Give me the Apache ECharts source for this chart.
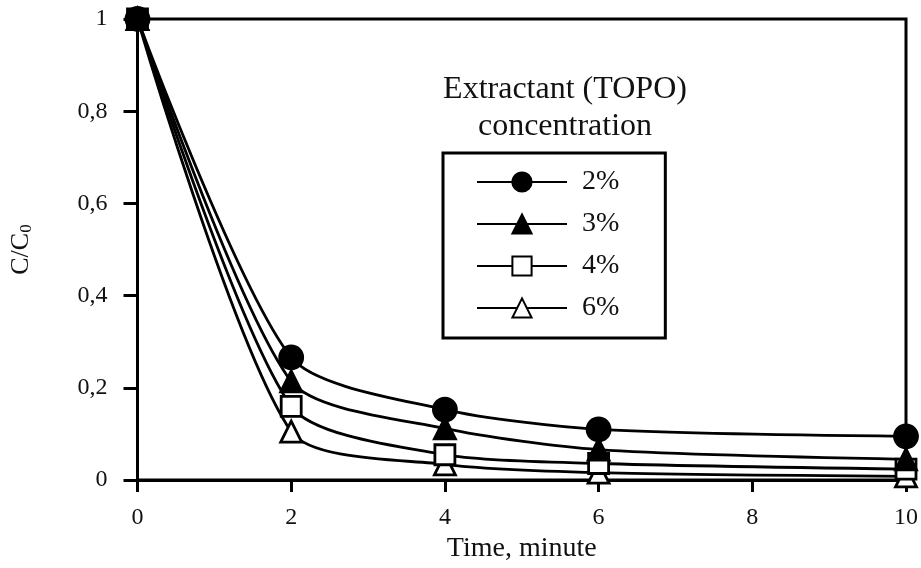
<!DOCTYPE html>
<html>
<head>
<meta charset="utf-8">
<script src="https://cdn.jsdelivr.net/npm/echarts@6/dist/echarts.min.js"></script>
<style>
  html, body { margin: 0; padding: 0; background: #fff; }
  #chart { width: 921px; height: 568px; }
</style>
</head>
<body>
<div id="chart"></div>
<script>
// time in minutes
const times = [0, 2, 4, 6, 10];
// C/C0 for each TOPO concentration
const c2 = [1, 0.266, 0.153, 0.110, 0.095];
const c3 = [1, 0.214, 0.112, 0.066, 0.045];
const c4 = [1, 0.160, 0.055, 0.036, 0.024];
const c6 = [1, 0.105, 0.034, 0.016, 0.008];
const labels = ['2%', '3%', '4%', '6%'];

const font = 'Liberation Serif';
const pairs = arr => times.map((t, i) => [t, arr[i]]);

function mkSeries(name, data, symbol, filled, size) {
  return {
    name: name,
    type: 'line',
    data: pairs(data),
    smooth: 0.25,
    symbol: symbol,
    symbolSize: size,
    lineStyle: { color: '#000', width: 2.8 },
    itemStyle: { color: filled ? '#000' : '#fff', borderColor: '#000', borderWidth: 2.8 },
    emphasis: { disabled: true }
  };
}

const chart = echarts.init(document.getElementById('chart'));
chart.setOption({
  animation: false,
  textStyle: { fontFamily: font },
  title: {
    text: 'Extractant (TOPO)\nconcentration',
    left: 560, top: 66, textAlign: 'center',
    textStyle: { fontFamily: font, fontSize: 32, fontWeight: 'normal', color: '#111', lineHeight: 37 }
  },
  legend: {
    orient: 'vertical',
    left: 443, top: 153,
    padding: [15, 46, 16, 33],
    itemGap: 14,
    itemWidth: 90,
    itemHeight: 24,
    borderColor: '#000',
    borderWidth: 3,
    textStyle: { fontFamily: font, fontSize: 28, color: '#111', padding: [0, 0, 0, 10] },
    data: labels
  },
  grid: {
    left: 137, right: 13, top: 19, bottom: 84,
    show: true, borderColor: '#000', borderWidth: 3
  },
  xAxis: {
    type: 'value', min: 0, max: 10, interval: 2,
    name: 'Time, minute', nameLocation: 'middle', nameGap: 52,
    nameTextStyle: { fontFamily: font, fontSize: 28, color: '#111' },
    axisLine: { lineStyle: { color: '#000', width: 3 } },
    axisTick: { inside: false, length: 12, lineStyle: { color: '#000', width: 3 } },
    axisLabel: { fontFamily: font, fontSize: 24, color: '#111', margin: 26 },
    splitLine: { show: false }
  },
  yAxis: {
    type: 'value', min: 0, max: 1, interval: 0.2,
    name: 'C/C{sub|0}', nameLocation: 'middle', nameGap: 102, nameRotate: 90,
    nameTextStyle: {
      fontFamily: font, fontSize: 26, color: '#111',
      rich: { sub: { fontFamily: font, fontSize: 17, color: '#111', verticalAlign: 'bottom', padding: [12, 0, 0, 0] } }
    },
    axisLine: { lineStyle: { color: '#000', width: 3 } },
    axisTick: { inside: false, length: 14, lineStyle: { color: '#000', width: 3 } },
    axisLabel: {
      fontFamily: font, fontSize: 24, color: '#111', margin: 30,
      formatter: v => String(Math.round(v * 10) / 10).replace('.', ',')
    },
    splitLine: { show: false }
  },
  series: [
    mkSeries(labels[3], c6, 'triangle', false, 21),
    mkSeries(labels[2], c4, 'rect', false, 20),
    mkSeries(labels[1], c3, 'triangle', true, 21),
    mkSeries(labels[0], c2, 'circle', true, 23)
  ]
});
</script>
</body>
</html>
